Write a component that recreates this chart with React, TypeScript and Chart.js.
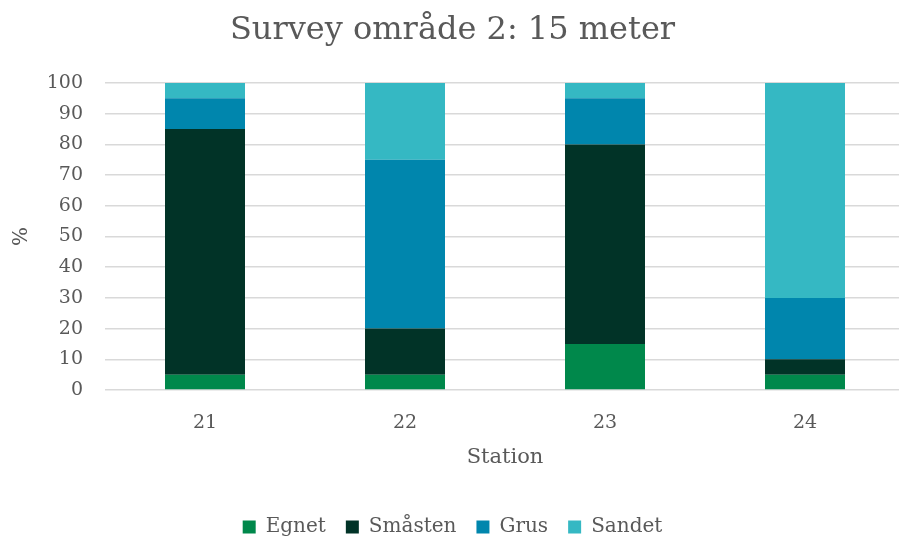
import React, { useEffect, useRef } from "react";
import { Chart, registerables } from "chart.js";

Chart.register(...registerables);

const stations = ["21", "22", "23", "24"];
const egnet = [5, 5, 15, 5];
const smasten = [80, 15, 65, 5];
const grus = [10, 55, 15, 20];
const sandet = [5, 25, 5, 70];

const FONT = "'DejaVu Serif', 'Liberation Serif', serif";
const TEXT = "#595959";

export default function App() {
  const ref = useRef<HTMLCanvasElement>(null);

  useEffect(() => {
    const canvas = ref.current;
    if (!canvas) return;
    const chart = new Chart(canvas, {
      type: "bar",
      data: {
        labels: stations,
        datasets: [
          { label: "Egnet", data: egnet, backgroundColor: "#00884B" },
          { label: "Småsten", data: smasten, backgroundColor: "#013327" },
          { label: "Grus", data: grus, backgroundColor: "#0086AD" },
          { label: "Sandet", data: sandet, backgroundColor: "#35B8C3" },
        ],
      },
      options: {
        responsive: false,
        animation: false,
        devicePixelRatio: 1,
        layout: { padding: 0 },
        datasets: {
          bar: { categoryPercentage: 1, barPercentage: 0.4 },
        },
        plugins: {
          title: {
            display: true,
            text: "Survey område 2: 15 meter",
            color: TEXT,
            font: { family: FONT, size: 32, weight: "normal", lineHeight: 1.2 },
            padding: { top: 11, bottom: 33.6 },
          },
          legend: {
            position: "bottom",
            labels: {
              color: TEXT,
              font: { family: FONT, size: 20 },
              boxWidth: 13,
              boxHeight: 13,
              padding: 20,
            },
          },
          tooltip: { enabled: false },
        },
        scales: {
          x: {
            stacked: true,
            grid: { display: false, drawTicks: false },
            border: { display: false },
            ticks: {
              color: TEXT,
              font: { family: FONT, size: 19 },
              padding: 22,
            },
            title: {
              display: true,
              text: "Station",
              color: TEXT,
              font: { family: FONT, size: 21, lineHeight: 1.2 },
              padding: { top: 0, bottom: 27 },
            },
            afterFit: (scale: any) => {
              scale.height = 107;
            },
          },
          y: {
            stacked: true,
            min: 0,
            max: 100,
            grid: { color: "#D9D9D9", lineWidth: 1.5, drawTicks: false },
            border: { display: false },
            ticks: {
              stepSize: 10,
              color: TEXT,
              font: { family: FONT, size: 19 },
              padding: 22,
            },
            title: {
              display: true,
              text: "%",
              color: TEXT,
              font: { family: FONT, size: 20, lineHeight: 1.2 },
              padding: { top: 10, bottom: 0 },
            },
            afterFit: (scale: any) => {
              scale.width = 105;
            },
          },
        },
      },
    });
    return () => chart.destroy();
  }, []);

  return (
    <div style={{ position: "fixed", left: 0, top: 0, width: 905, height: 547, background: "#fff" }}>
      <canvas ref={ref} width={905} height={547} style={{ width: 905, height: 547 }} />
    </div>
  );
}
